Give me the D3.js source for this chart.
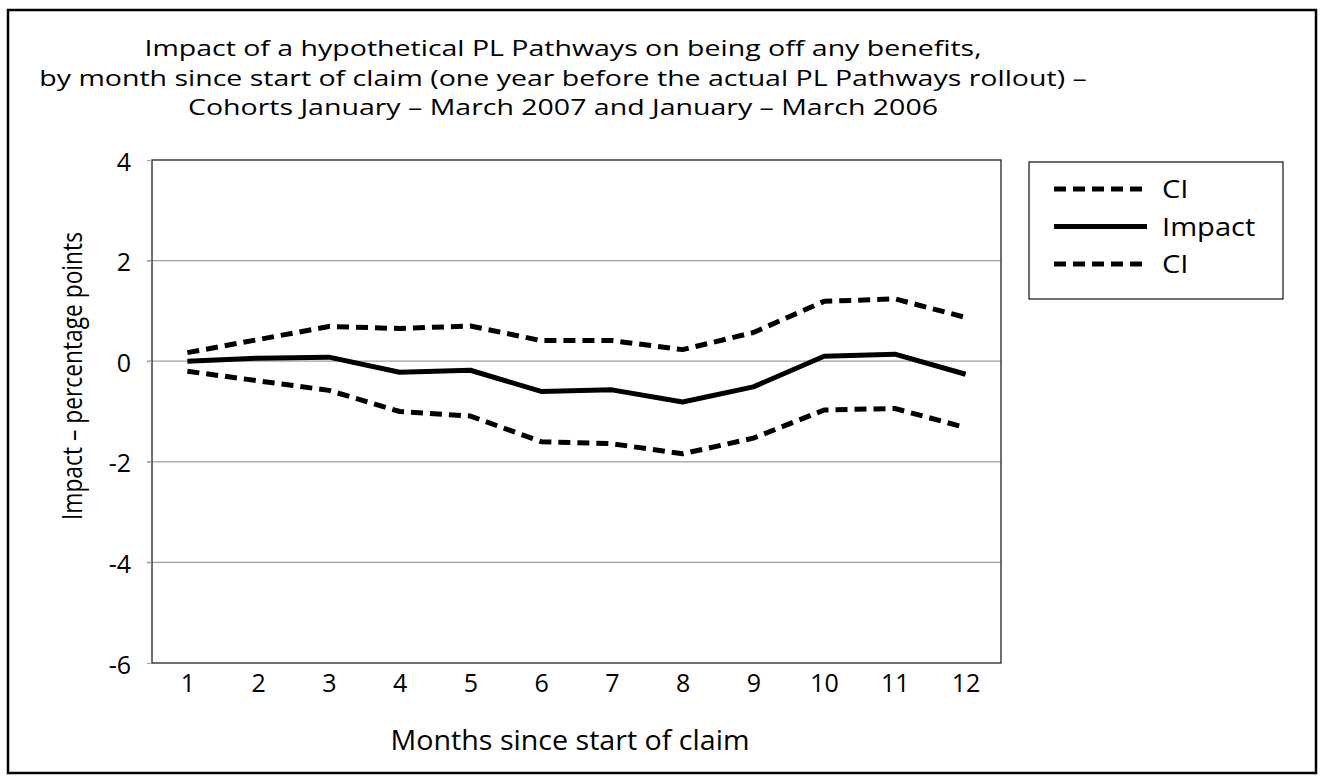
<!DOCTYPE html>
<html>
<head>
<meta charset="utf-8">
<script src="https://cdn.jsdelivr.net/npm/d3@7"></script>
<style>
  body { margin: 0; background: #fff; }
  text { font-family: "Open Sans", sans-serif; fill: #000; }
</style>
</head>
<body>
<div id="container"></div>
<script>
/* DATA */
const months = [1, 2, 3, 4, 5, 6, 7, 8, 9, 10, 11, 12];
const impact = [0.0, 0.06, 0.08, -0.22, -0.18, -0.6, -0.57, -0.81, -0.51, 0.1, 0.14, -0.26];
const ciUpper = [0.17, 0.43, 0.69, 0.65, 0.7, 0.41, 0.41, 0.23, 0.57, 1.19, 1.24, 0.87];
const ciLower = [-0.2, -0.39, -0.58, -1.0, -1.09, -1.6, -1.64, -1.84, -1.53, -0.97, -0.94, -1.32];
const yTicks = [4, 2, 0, -2, -4, -6];
const titleLines = [
  "Impact of a hypothetical PL Pathways on being off any benefits,",
  "by month since start of claim (one year before the actual PL Pathways rollout) \u2013",
  "Cohorts January \u2013 March 2007 and January \u2013 March 2006"
];
const legendItems = [
  { name: "CI", dashed: true },
  { name: "Impact", dashed: false },
  { name: "CI", dashed: true }
];

/* CONSTANTS */
const width = 1324, height = 781;
const plot = { left: 152, right: 1001, top: 160, bottom: 663 };
const dash = "12,7";

// the source font is wider than Open Sans, so stretch text a bit
function stretch(sel, factor) {
  sel.each(function () {
    const len = this.getComputedTextLength();
    d3.select(this)
      .attr("textLength", len * factor)
      .attr("lengthAdjust", "spacingAndGlyphs");
  });
}

const svg = d3.select("#container")
  .append("svg")
  .attr("width", width)
  .attr("height", height);

// outer frame
svg.append("rect")
  .attr("x", 8).attr("y", 10)
  .attr("width", 1308).attr("height", 763)
  .attr("fill", "none")
  .attr("stroke", "#000")
  .attr("stroke-width", 2.5);

/* SCALES */
const xScale = d3.scalePoint()
  .domain(months)
  .range([plot.left, plot.right])
  .padding(0.5);

const yScale = d3.scaleLinear()
  .domain([-6, 4])
  .range([plot.bottom, plot.top]);

// gridlines
svg.append("g")
  .selectAll("line")
  .data(yTicks.filter(d => d !== 4 && d !== -6))
  .join("line")
  .attr("x1", plot.left - 5)
  .attr("x2", plot.right)
  .attr("y1", d => yScale(d))
  .attr("y2", d => yScale(d))
  .attr("stroke", "#a0a0a0")
  .attr("stroke-width", 1.2);

// plot frame
svg.append("rect")
  .attr("x", plot.left).attr("y", plot.top)
  .attr("width", plot.right - plot.left)
  .attr("height", plot.bottom - plot.top)
  .attr("fill", "none")
  .attr("stroke", "#222")
  .attr("stroke-width", 1.3);

// y axis
const yAxis = d3.axisLeft(yScale)
  .tickValues(yTicks)
  .tickFormat(d => String(d))
  .tickSize(5)
  .tickPadding(16);
const gy = svg.append("g")
  .attr("transform", `translate(${plot.left},0)`)
  .call(yAxis);
gy.select(".domain").remove();
gy.selectAll(".tick line").attr("stroke", "#a0a0a0");
gy.selectAll(".tick text")
  .attr("font-size", 25)
  .attr("dy", "0.4em")
  .attr("font-family", "Open Sans")
  .attr("fill", "#000");

// x axis
const xAxis = d3.axisBottom(xScale).tickSize(0).tickPadding(11);
const gx = svg.append("g")
  .attr("transform", `translate(0,${plot.bottom})`)
  .call(xAxis);
gx.select(".domain").remove();
gx.selectAll(".tick text")
  .attr("font-size", 25)
  .attr("font-family", "Open Sans")
  .attr("fill", "#000");

// lines
const line = d3.line()
  .x((d, i) => xScale(months[i]))
  .y(d => yScale(d));

const series = [
  { values: ciUpper, dashed: true },
  { values: ciLower, dashed: true },
  { values: impact, dashed: false }
];

svg.append("g")
  .selectAll("path")
  .data(series)
  .join("path")
  .attr("d", d => line(d.values))
  .attr("fill", "none")
  .attr("stroke", "#000")
  .attr("stroke-width", 5)
  .attr("stroke-linejoin", "round")
  .attr("stroke-dasharray", d => d.dashed ? dash : null);

// title
svg.append("g")
  .selectAll("text")
  .data(titleLines)
  .join("text")
  .attr("x", 563)
  .attr("y", (d, i) => 56 + i * 29.5)
  .attr("text-anchor", "middle")
  .attr("font-size", 22)
  .text(d => d)
  .call(stretch, 1.295);

// axis titles
svg.append("text")
  .attr("transform", "translate(82,376) rotate(-90)")
  .attr("text-anchor", "middle")
  .attr("font-size", 28)
  .attr("textLength", 288)
  .attr("lengthAdjust", "spacingAndGlyphs")
  .text("Impact \u2013 percentage points");

svg.append("text")
  .attr("x", 570)
  .attr("y", 750)
  .attr("text-anchor", "middle")
  .attr("font-size", 26.5)
  .text("Months since start of claim")
  .call(stretch, 1.08);

// legend
const legend = svg.append("g");
legend.append("rect")
  .attr("x", 1029).attr("y", 162)
  .attr("width", 254).attr("height", 137)
  .attr("fill", "#fff")
  .attr("stroke", "#222")
  .attr("stroke-width", 1.3);

const rows = legend.selectAll("g.row")
  .data(legendItems)
  .join("g")
  .attr("class", "row")
  .attr("transform", (d, i) => `translate(0,${189 + i * 37.5})`);

rows.append("line")
  .attr("x1", 1054).attr("x2", 1147)
  .attr("stroke", "#000")
  .attr("stroke-width", 5)
  .attr("stroke-dasharray", d => d.dashed ? dash : null);

rows.append("text")
  .attr("x", 1162)
  .attr("dy", "0.36em")
  .attr("font-size", 26)
  .text(d => d.name)
  .call(stretch, 1.12);
</script>
</body>
</html>
